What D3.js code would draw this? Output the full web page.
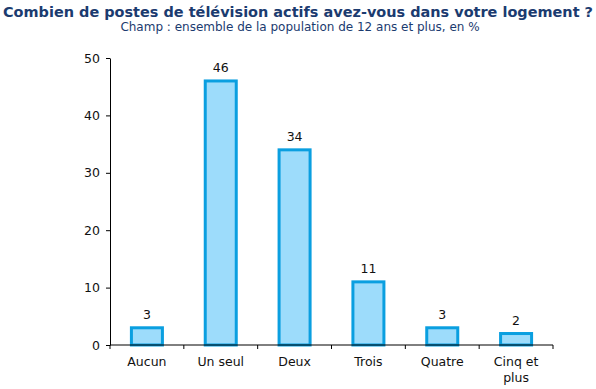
<!DOCTYPE html>
<html>
<head>
<meta charset="utf-8">
<script src="https://cdn.jsdelivr.net/npm/d3@7"></script>
<style>
  body { margin: 0; background: #fff; }
  svg { display: block; font-family: "DejaVu Sans", Verdana, sans-serif; }
</style>
</head>
<body>
<script>
var categories = ["Aucun", "Un seul", "Deux", "Trois", "Quatre", "Cinq et|plus"];
var values = [3, 46, 34, 11, 3, 2];
var yTicks = [0, 10, 20, 30, 40, 50];

var width = 596, height = 389;
var margin = {left: 110, right: 43, top: 58, bottom: 44};

var svg = d3.select("body").append("svg")
  .attr("width", width)
  .attr("height", height);

svg.append("text")
  .attr("x", width / 2)
  .attr("y", 17)
  .attr("text-anchor", "middle")
  .attr("font-weight", "bold")
  .attr("font-size", 14)
  .attr("fill", "#1b3b6f")
  .attr("textLength", 590)
  .attr("lengthAdjust", "spacingAndGlyphs")
  .text("Combien de postes de télévision actifs avez-vous dans votre logement ?");

svg.append("text")
  .attr("x", 300)
  .attr("y", 31)
  .attr("text-anchor", "middle")
  .attr("font-size", 12)
  .attr("fill", "#1b3b6f")
  .text("Champ : ensemble de la population de 12 ans et plus, en %");

var x = d3.scaleBand()
  .domain(categories)
  .range([margin.left, width - margin.right])
  .paddingInner(0.58)
  .paddingOuter(0.29);

var y = d3.scaleLinear()
  .domain([0, 50])
  .range([height - margin.bottom, margin.top]);

var bars = svg.append("g");
bars.selectAll("rect")
  .data(values)
  .enter()
  .append("rect")
  .attr("x", function(d, i) { return x(categories[i]); })
  .attr("y", function(d) { return y(d); })
  .attr("width", x.bandwidth())
  .attr("height", function(d) { return y(0) - y(d); })
  .attr("fill", "#9ddcfb")
  .attr("stroke", "#0a9fe0")
  .attr("stroke-width", 3);

bars.selectAll("text")
  .data(values)
  .enter()
  .append("text")
  .attr("x", function(d, i) { return x(categories[i]) + x.bandwidth() / 2; })
  .attr("y", function(d) { return y(d) - 9; })
  .attr("text-anchor", "middle")
  .attr("font-size", 12.5)
  .attr("fill", "#111")
  .text(function(d) { return d; });

// y axis
var yAxis = svg.append("g")
  .attr("transform", "translate(" + margin.left + ",0)")
  .call(d3.axisLeft(y).tickValues(yTicks).tickSize(4).tickSizeOuter(0));
yAxis.selectAll("text").attr("font-size", 12.5).attr("fill", "#111").attr("font-family", "DejaVu Sans, Verdana, sans-serif").attr("dx", "-3");
yAxis.select(".domain").attr("stroke", "#000");

// x axis, ticks between categories
var xAxisG = svg.append("g")
  .attr("transform", "translate(0," + y(0) + ")");
xAxisG.append("line")
  .attr("x1", margin.left).attr("x2", width - margin.right)
  .attr("stroke", "#000");
var edges = d3.range(categories.length + 1).map(function(i) { return margin.left + i * (width - margin.left - margin.right) / categories.length; });
xAxisG.selectAll("line.tick")
  .data(edges)
  .enter()
  .append("line")
  .attr("class", "tick")
  .attr("x1", function(d) { return d; })
  .attr("x2", function(d) { return d; })
  .attr("y1", 0)
  .attr("y2", 4)
  .attr("stroke", "#000");

var labels = xAxisG.selectAll("text")
  .data(categories)
  .enter()
  .append("text")
  .attr("x", function(d) { return x(d) + x.bandwidth() / 2; })
  .attr("y", 21)
  .attr("text-anchor", "middle")
  .attr("font-size", 12.5)
  .attr("fill", "#111");
labels.each(function(d) {
  var parts = d.split("|");
  var t = d3.select(this);
  parts.forEach(function(p, i) {
    t.append("tspan")
      .attr("x", t.attr("x"))
      .attr("dy", i === 0 ? 0 : 16)
      .text(p);
  });
});
</script>
</body>
</html>
